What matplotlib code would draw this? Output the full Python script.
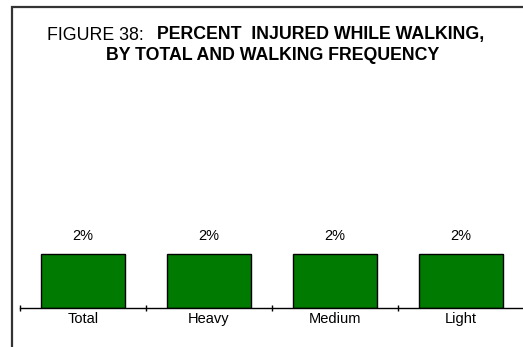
import numpy as np
import matplotlib
matplotlib.use("Agg")
import matplotlib.pyplot as plt
from matplotlib.patches import Rectangle

categories = ["Total", "Heavy", "Medium", "Light"]
values = [2, 2, 2, 2]
labels = ["2%", "2%", "2%", "2%"]

plt.rcParams['font.family'] = ['Liberation Sans', 'DejaVu Sans']

W, H = 523, 347
fig = plt.figure(figsize=(W / 100, H / 100), dpi=100)

# outer frame (runs off the right and bottom edge)
fig.patches.append(Rectangle((12 / W, -0.1), 1.2, (H - 7) / H + 0.1,
                             transform=fig.transFigure, fill=False,
                             edgecolor="#333333", linewidth=1.6))

ax = fig.add_axes([20 / W, (H - 308) / H, 504 / W, 216 / H])
x = np.arange(len(categories))
ax.bar(x, values, width=0.67, color="#007a00", edgecolor="black", linewidth=1.0)
for xi, v, lab in zip(x, values, labels):
    ax.text(xi, v + 0.4, lab, ha="center", va="bottom", fontsize=10.5)

ax.set_xlim(-0.5, len(categories) - 0.5)
ax.set_ylim(0, 8)
ax.set_xticks(x)
ax.set_xticklabels(categories, fontsize=10.5)
ax.set_xticks(np.arange(len(categories) + 1) - 0.5, minor=True)
ax.tick_params(axis="x", which="major", length=0, pad=3)
ax.tick_params(axis="x", which="minor", length=4, width=1, direction="inout")
ax.set_yticks([])
for s in ["top", "right", "left"]:
    ax.spines[s].set_visible(False)
ax.spines["bottom"].set_linewidth(1.0)
ax.patch.set_alpha(0)

fig.text(47 / W, 1 - 35 / H, "FIGURE 38:", fontsize=12.8, ha="left", va="center")
fig.text(157 / W, 1 - 35 / H, "PERCENT  INJURED WHILE WALKING,", fontsize=12.8,
         fontweight="bold", ha="left", va="center")
fig.text(273 / W, 1 - 56 / H, "BY TOTAL AND WALKING FREQUENCY", fontsize=12.8,
         fontweight="bold", ha="center", va="center")

fig.savefig("out.png", dpi=100)
